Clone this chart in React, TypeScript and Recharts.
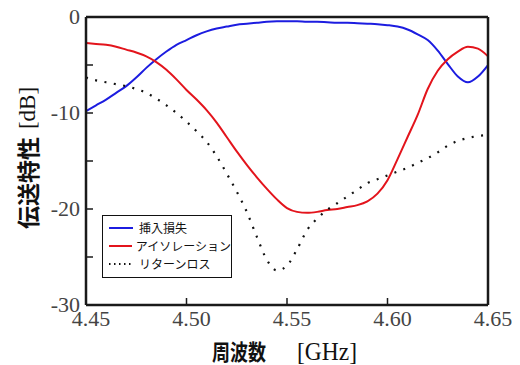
import React from 'react';
import { LineChart, Line, XAxis, YAxis, Legend } from 'recharts';

const freqs = [
  4.45, 4.455, 4.46, 4.465, 4.47, 4.475, 4.48, 4.485, 4.49, 4.495,
  4.5, 4.505, 4.51, 4.515, 4.52, 4.525, 4.53, 4.535, 4.54, 4.545,
  4.55, 4.555, 4.56, 4.565, 4.57, 4.575, 4.58, 4.585, 4.59, 4.595,
  4.6, 4.605, 4.61, 4.615, 4.62, 4.625, 4.63, 4.635, 4.64, 4.645, 4.65,
];

const insertionLoss = [
  -9.8, -9.2, -8.6, -7.9, -7.2, -6.3, -5.3, -4.4, -3.6, -2.9,
  -2.4, -1.9, -1.5, -1.2, -1.0, -0.8, -0.7, -0.6, -0.5, -0.45,
  -0.45, -0.45, -0.5, -0.5, -0.55, -0.6, -0.6, -0.65, -0.7, -0.75,
  -0.85, -1.0, -1.3, -1.8, -2.4, -3.5, -4.9, -6.2, -6.8, -6.2, -5.0,
];

const isolation = [
  -2.7, -2.8, -2.9, -3.1, -3.4, -3.7, -4.1, -4.7, -5.5, -6.5,
  -7.6, -8.6, -9.7, -11.0, -12.5, -14.0, -15.4, -16.7, -17.9, -19.0,
  -19.9, -20.3, -20.4, -20.3, -20.1, -20.0, -19.8, -19.6, -19.2, -18.4,
  -17.0, -14.8, -12.5, -10.2, -7.5, -5.6, -4.4, -3.6, -3.1, -3.3, -4.1,
];

const returnLoss = [
  -6.3, -6.6, -6.8, -7.0, -7.2, -7.5, -7.9, -8.5, -9.2, -10.0,
  -10.9, -11.9, -13.0, -14.5, -16.3, -18.2, -20.3, -22.9, -25.3, -26.4,
  -25.9, -24.2, -22.2, -21.0, -20.1, -19.4, -18.7, -18.0, -17.3, -16.9,
  -16.5, -16.1, -15.7, -15.2, -14.7, -14.1, -13.4, -12.9, -12.6, -12.4, -12.3,
];

const seriesNames = ['挿入損失', 'アイソレーション', 'リターンロス'];
const xTicks = [4.45, 4.5, 4.55, 4.6, 4.65];
const yTicks = [0, -5, -10, -15, -20, -25, -30];
const yLabeledTicks = [0, -10, -20, -30];

const data = freqs.map((f, i) => ({
  f,
  il: insertionLoss[i],
  iso: isolation[i],
  rl: returnLoss[i],
}));

const AXIS = '#1a1a1a';
const SERIF = "'Liberation Serif'";
const serifStyle = { fontFamily: SERIF } as React.CSSProperties;

const XTick = (props: any) => {
  const { x, y, payload } = props;
  return (
    <text x={x + 5} y={y + 18} textAnchor="middle" style={serifStyle} fontSize={22} fill="#444">
      {Number(payload.value).toFixed(2)}
    </text>
  );
};

const YTick = (props: any) => {
  const { x, y, payload } = props;
  const v = Number(payload.value);
  if (!yLabeledTicks.includes(v)) return <g />;
  return (
    <text x={x} y={y + 7} textAnchor="end" style={serifStyle} fontSize={22} fill="#444">
      {String(v)}
    </text>
  );
};

const renderLegend = (props: any) => {
  const payload = [...(props.payload || [])].sort(
    (a: any, b: any) => seriesNames.indexOf(a.value) - seriesNames.indexOf(b.value)
  );
  return (
    <div
      style={{
        border: '1.5px solid #111',
        background: '#fff',
        width: 130,
        height: 63,
        boxSizing: 'border-box',
        padding: '3px 0 0 6px',
        fontFamily: '"Noto Sans CJK JP", sans-serif',
        fontSize: 12,
        color: '#111',
        lineHeight: '17.5px',
      }}
    >
      {payload.map((p: any, i: number) => (
        <div key={i} style={{ display: 'flex', alignItems: 'center', height: 18 }}>
          <svg width={26} height={6} style={{ display: 'block' }}>
            <line
              x1={0}
              y1={3}
              x2={24}
              y2={3}
              stroke={p.color}
              strokeWidth={2}
              strokeDasharray={p.payload && p.payload.strokeDasharray ? '1.5 3.5' : undefined}
            />
          </svg>
          <span style={{ marginLeft: 4, whiteSpace: 'nowrap' }}>{p.value}</span>
        </div>
      ))}
    </div>
  );
};

const YTitle = () => (
  <text
    x={27}
    y={158}
    transform="rotate(-90 27 158)"
    textAnchor="middle"
    dominantBaseline="central"
    fill="#111"
  >
    <tspan fontFamily='"Noto Sans CJK JP", sans-serif' fontWeight={700} fontSize={23}>
      伝送特性
    </tspan>
    <tspan dx={8} style={serifStyle} fontSize={23}>
      [dB]
    </tspan>
  </text>
);

const XTitle = () => (
  <g fill="#111">
    <text
      x={212}
      y={360}
      fontFamily='"Noto Sans CJK JP", sans-serif'
      fontWeight={700}
      fontSize={22}
      textLength={54}
      lengthAdjust="spacingAndGlyphs"
    >
      周波数
    </text>
    <text
      x={297}
      y={360}
      style={serifStyle}
      fontSize={25}
      textLength={60}
      lengthAdjust="spacingAndGlyphs"
    >
      [GHz]
    </text>
  </g>
);

export default function App() {
  return (
    <div style={{ position: 'absolute', left: 0, top: 0, width: 520, height: 365, background: '#fff' }}>
      <LineChart width={520} height={365} data={data} margin={{ top: 16, right: 31, left: 0, bottom: 0 }}>
        <XAxis
          xAxisId="b"
          dataKey="f"
          type="number"
          domain={[4.45, 4.65]}
          ticks={xTicks}
          height={60}
          tickSize={-7}
          tickMargin={10}
          axisLine={{ stroke: AXIS, strokeWidth: 2.5 }}
          tickLine={{ stroke: AXIS, strokeWidth: 1.5 }}
          tick={<XTick />}
          allowDataOverflow
          label={{ content: () => <XTitle /> }}
        />
        <XAxis
          xAxisId="t"
          dataKey="f"
          type="number"
          orientation="top"
          domain={[4.45, 4.65]}
          ticks={xTicks}
          height={1}
          tickSize={-7}
          tick={false}
          axisLine={{ stroke: AXIS, strokeWidth: 2.5 }}
          tickLine={{ stroke: AXIS, strokeWidth: 1.5 }}
          allowDataOverflow
        />
        <YAxis
          yAxisId="l"
          type="number"
          domain={[-30, 0]}
          ticks={yTicks}
          width={86}
          tickSize={-7}
          tickMargin={13}
          axisLine={{ stroke: AXIS, strokeWidth: 2.5 }}
          tickLine={{ stroke: AXIS, strokeWidth: 1.5 }}
          tick={<YTick />}
          allowDataOverflow
          label={{ content: () => <YTitle /> }}
        />
        <YAxis
          yAxisId="r"
          type="number"
          orientation="right"
          domain={[-30, 0]}
          ticks={yTicks}
          width={1}
          tickSize={-7}
          tick={false}
          axisLine={{ stroke: AXIS, strokeWidth: 2.5 }}
          tickLine={{ stroke: AXIS, strokeWidth: 1.5 }}
          allowDataOverflow
        />
        <Line
          xAxisId="b"
          yAxisId="l"
          type="monotone"
          dataKey="il"
          name={seriesNames[0]}
          stroke="#1c1ce0"
          strokeWidth={2}
          dot={false}
          isAnimationActive={false}
        />
        <Line
          xAxisId="b"
          yAxisId="l"
          type="monotone"
          dataKey="iso"
          name={seriesNames[1]}
          stroke="#e3141c"
          strokeWidth={2}
          dot={false}
          isAnimationActive={false}
        />
        <Line
          xAxisId="b"
          yAxisId="l"
          type="monotone"
          dataKey="rl"
          name={seriesNames[2]}
          stroke="#111"
          strokeWidth={2.2}
          strokeDasharray="2 7.5"
          dot={false}
          isAnimationActive={false}
        />
        <Legend
          layout="vertical"
          align="center"
          verticalAlign="middle"
          content={renderLegend}
          wrapperStyle={{ left: 102, top: 215, width: 'auto', height: 'auto' }}
        />
      </LineChart>
    </div>
  );
}
